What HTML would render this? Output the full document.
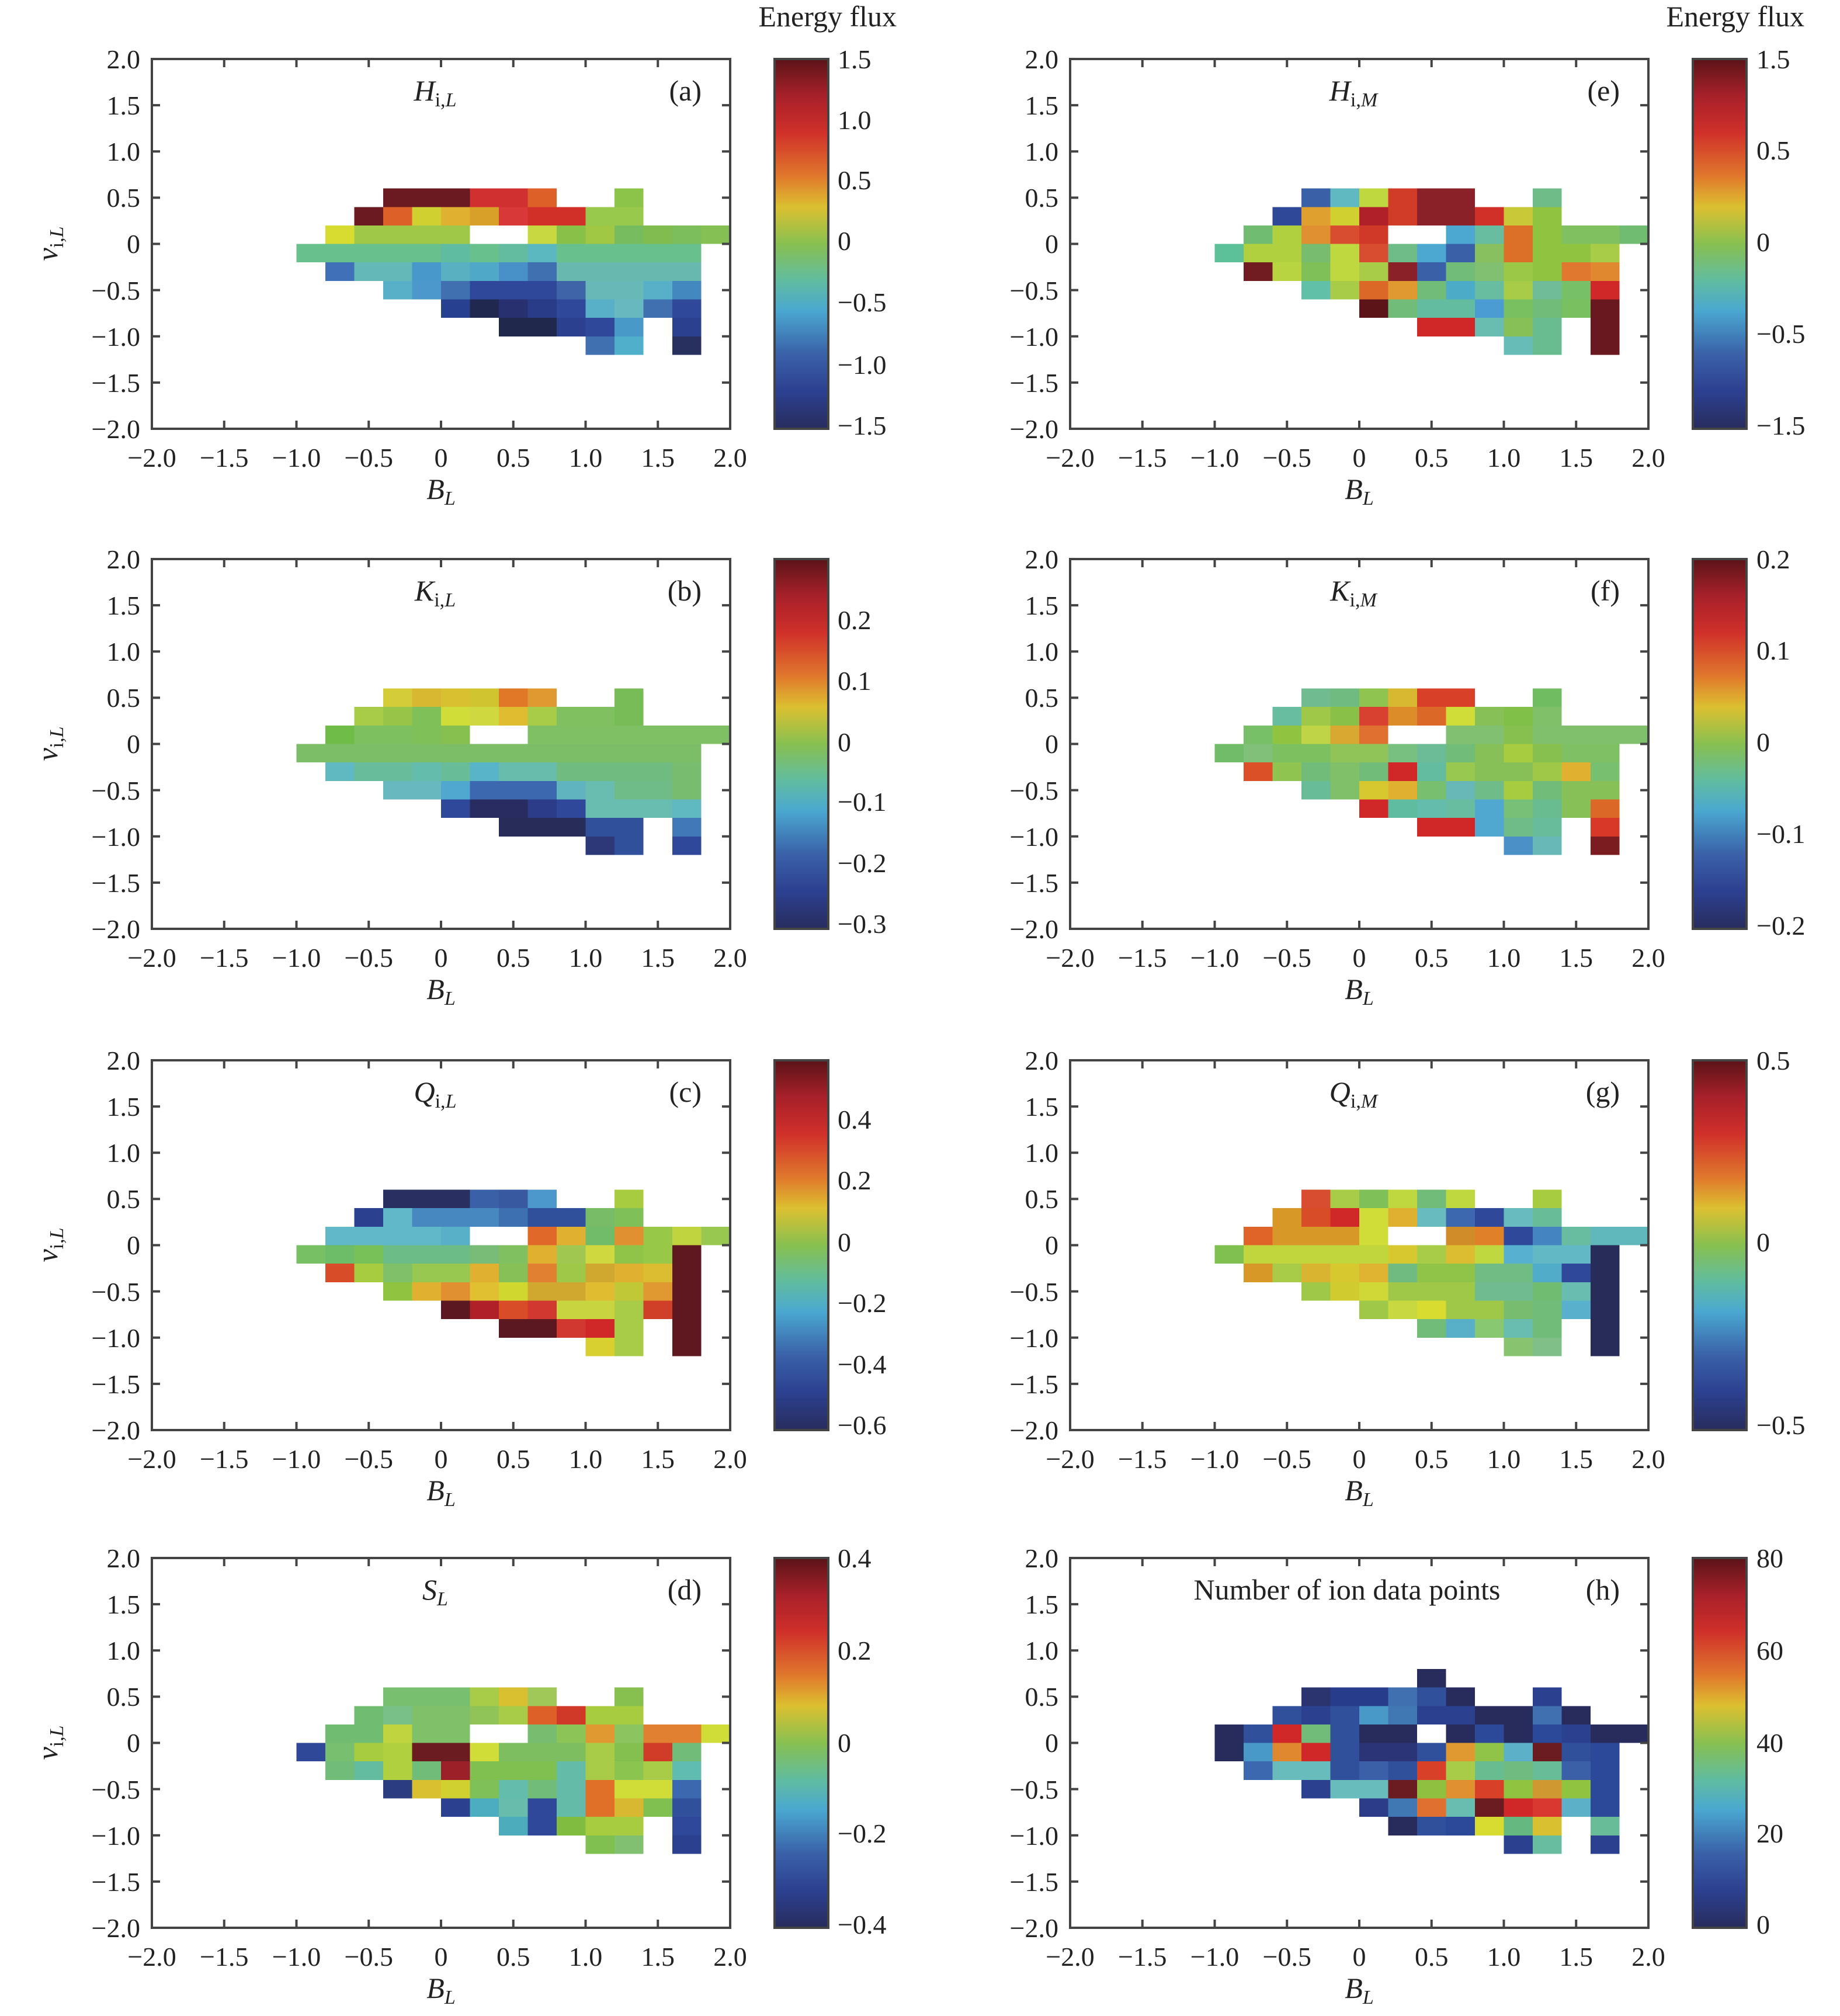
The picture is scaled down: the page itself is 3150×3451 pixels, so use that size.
<!DOCTYPE html>
<html><head><meta charset="utf-8"><style>
html,body{margin:0;padding:0;background:#fff}
svg{display:block}
text{font-family:"Liberation Serif",serif;fill:#222}
.t{font-size:46px}
.it{font-style:italic}
</style></head><body>
<svg width="3150" height="3451" viewBox="0 0 3150 3451" xmlns="http://www.w3.org/2000/svg">
<defs>
<linearGradient id="cm" x1="0" y1="0" x2="0" y2="1">
<stop offset="0" stop-color="#5a1418"/><stop offset="0.1" stop-color="#a8202a"/><stop offset="0.2" stop-color="#d0302a"/><stop offset="0.32" stop-color="#e07a2c"/><stop offset="0.4" stop-color="#dcc030"/><stop offset="0.5" stop-color="#88c050"/><stop offset="0.6" stop-color="#60bca0"/><stop offset="0.68" stop-color="#4aa8d0"/><stop offset="0.8" stop-color="#3a60a8"/><stop offset="0.9" stop-color="#2c4090"/><stop offset="1" stop-color="#282c5c"/>
</linearGradient>
<g id="ax">
<rect x="0" y="0" width="990" height="633" fill="none" stroke="#444" stroke-width="4"/>
<path d="M123.75,0v14M247.5,0v14M371.25,0v14M495,0v14M618.75,0v14M742.5,0v14M866.25,0v14M123.75,633v-14M247.5,633v-14M371.25,633v-14M495,633v-14M618.75,633v-14M742.5,633v-14M866.25,633v-14M0,79.1h14M0,158.25h14M0,237.4h14M0,316.5h14M0,395.6h14M0,474.75h14M0,553.9h14M990,79.1h-14M990,158.25h-14M990,237.4h-14M990,316.5h-14M990,395.6h-14M990,474.75h-14M990,553.9h-14" stroke="#444" stroke-width="4"/>
<g class="t" text-anchor="end">
<text x="-20" y="16">2.0</text><text x="-20" y="95">1.5</text><text x="-20" y="174">1.0</text><text x="-20" y="253">0.5</text><text x="-20" y="332">0</text><text x="-20" y="412">−0.5</text><text x="-20" y="491">−1.0</text><text x="-20" y="570">−1.5</text><text x="-20" y="649">−2.0</text>
</g>
<g class="t" text-anchor="middle">
<text x="0" y="698">−2.0</text><text x="123.75" y="698">−1.5</text><text x="247.5" y="698">−1.0</text><text x="371.25" y="698">−0.5</text><text x="495" y="698">0</text><text x="618.75" y="698">0.5</text><text x="742.5" y="698">1.0</text><text x="866.25" y="698">1.5</text><text x="990" y="698">2.0</text>
</g>
<text x="495" y="753" text-anchor="middle" style="font-size:50px" class="it">B<tspan dy="10" style="font-size:34px">L</tspan></text>
</g>
<g id="cb">
<rect x="0" y="0" width="92" height="633" fill="url(#cm)" stroke="#444" stroke-width="4"/>
</g>
</defs>
<g shape-rendering="crispEdges">
<!-- a -->
<g transform="translate(507.5,322.6) scale(49.5,31.65)">
<rect x="3" y="0" width="3" height="1" fill="#6a1a20"/><rect x="6" y="0" width="2" height="1" fill="#d03030"/><rect x="8" y="0" width="1" height="1" fill="#dc6028"/><rect x="11" y="0" width="1" height="1" fill="#8cc44a"/>
<rect x="2" y="1" width="1" height="1" fill="#6a1a20"/><rect x="3" y="1" width="1" height="1" fill="#dc6028"/><rect x="4" y="1" width="1" height="1" fill="#d0d030"/><rect x="5" y="1" width="1" height="1" fill="#e0b030"/><rect x="6" y="1" width="1" height="1" fill="#d8a028"/><rect x="7" y="1" width="1" height="1" fill="#d83838"/><rect x="8" y="1" width="2" height="1" fill="#d03028"/><rect x="10" y="1" width="2" height="1" fill="#98c84c"/>
<rect x="1" y="2" width="1" height="1" fill="#d8dc30"/><rect x="2" y="2" width="4" height="1" fill="#a0c848"/><rect x="8" y="2" width="1" height="1" fill="#c8d840"/><rect x="9" y="2" width="1" height="1" fill="#88c048"/><rect x="10" y="2" width="1" height="1" fill="#a0c844"/><rect x="11" y="2" width="1" height="1" fill="#78bc60"/><rect x="12" y="2" width="1" height="1" fill="#80bc50"/><rect x="13" y="2" width="1" height="1" fill="#7cbe5c"/><rect x="14" y="2" width="1" height="1" fill="#84c054"/>
<rect x="0" y="3" width="14" height="1" fill="#68c08c"/><rect x="5" y="3" width="1" height="1" fill="#60bca0"/><rect x="7" y="3" width="1" height="1" fill="#64bca0"/><rect x="8" y="3" width="1" height="1" fill="#5cb8c0"/>
<rect x="1" y="4" width="1" height="1" fill="#4070b8"/><rect x="2" y="4" width="2" height="1" fill="#64b8b8"/><rect x="4" y="4" width="1" height="1" fill="#4898cc"/><rect x="5" y="4" width="1" height="1" fill="#58b0c0"/><rect x="6" y="4" width="1" height="1" fill="#50a8c8"/><rect x="7" y="4" width="1" height="1" fill="#4890c8"/><rect x="8" y="4" width="1" height="1" fill="#4070b0"/><rect x="9" y="4" width="5" height="1" fill="#68b8b0"/>
<rect x="3" y="5" width="1" height="1" fill="#58b0c8"/><rect x="4" y="5" width="1" height="1" fill="#4c98cc"/><rect x="5" y="5" width="1" height="1" fill="#4070b0"/><rect x="6" y="5" width="3" height="1" fill="#30489a"/><rect x="9" y="5" width="1" height="1" fill="#4064a8"/><rect x="10" y="5" width="2" height="1" fill="#68b8b8"/><rect x="12" y="5" width="1" height="1" fill="#58b0c8"/><rect x="13" y="5" width="1" height="1" fill="#4488c0"/>
<rect x="5" y="6" width="1" height="1" fill="#284090"/><rect x="6" y="6" width="1" height="1" fill="#202850"/><rect x="7" y="6" width="1" height="1" fill="#283070"/><rect x="8" y="6" width="1" height="1" fill="#283c88"/><rect x="9" y="6" width="1" height="1" fill="#30489a"/><rect x="10" y="6" width="1" height="1" fill="#58b0c8"/><rect x="11" y="6" width="1" height="1" fill="#68b8c0"/><rect x="12" y="6" width="1" height="1" fill="#4070b0"/><rect x="13" y="6" width="1" height="1" fill="#30489a"/>
<rect x="7" y="7" width="2" height="1" fill="#20284c"/><rect x="9" y="7" width="1" height="1" fill="#2c4090"/><rect x="10" y="7" width="1" height="1" fill="#30489a"/><rect x="11" y="7" width="1" height="1" fill="#4898c8"/><rect x="13" y="7" width="1" height="1" fill="#2c4090"/>
<rect x="10" y="8" width="1" height="1" fill="#4070b0"/><rect x="11" y="8" width="1" height="1" fill="#50b0cc"/><rect x="13" y="8" width="1" height="1" fill="#283060"/>
</g>
<!-- b -->
<g transform="translate(507.5,1178.6) scale(49.5,31.65)">
<rect x="3" y="0" width="1" height="1" fill="#d4cc38"/><rect x="4" y="0" width="1" height="1" fill="#d8b830"/><rect x="5" y="0" width="1" height="1" fill="#d8c030"/><rect x="6" y="0" width="1" height="1" fill="#d0c430"/><rect x="7" y="0" width="1" height="1" fill="#e07828"/><rect x="8" y="0" width="1" height="1" fill="#e09830"/><rect x="11" y="0" width="1" height="1" fill="#78bc58"/>
<rect x="2" y="1" width="1" height="1" fill="#a8cc48"/><rect x="3" y="1" width="1" height="1" fill="#98c448"/><rect x="4" y="1" width="1" height="1" fill="#80c058"/><rect x="5" y="1" width="1" height="1" fill="#d0dc38"/><rect x="6" y="1" width="1" height="1" fill="#d0d840"/><rect x="7" y="1" width="1" height="1" fill="#e0bc30"/><rect x="8" y="1" width="1" height="1" fill="#a8cc48"/><rect x="9" y="1" width="2" height="1" fill="#80c060"/><rect x="11" y="1" width="1" height="1" fill="#78bc58"/>
<rect x="1" y="2" width="1" height="1" fill="#70bc48"/><rect x="2" y="2" width="2" height="1" fill="#7cc060"/><rect x="4" y="2" width="1" height="1" fill="#80c058"/><rect x="5" y="2" width="1" height="1" fill="#88c050"/><rect x="8" y="2" width="7" height="1" fill="#80c064"/>
<rect x="0" y="3" width="14" height="1" fill="#7cbe68"/>
<rect x="1" y="4" width="1" height="1" fill="#60b8c0"/><rect x="2" y="4" width="2" height="1" fill="#68bc9c"/><rect x="4" y="4" width="1" height="1" fill="#64bcac"/><rect x="5" y="4" width="1" height="1" fill="#68bc98"/><rect x="6" y="4" width="1" height="1" fill="#58b4c8"/><rect x="7" y="4" width="2" height="1" fill="#68bcac"/><rect x="9" y="4" width="4" height="1" fill="#70bc80"/><rect x="13" y="4" width="1" height="1" fill="#78bc70"/>
<rect x="3" y="5" width="2" height="1" fill="#68b8c0"/><rect x="5" y="5" width="1" height="1" fill="#50a8d0"/><rect x="6" y="5" width="3" height="1" fill="#3c68b0"/><rect x="9" y="5" width="1" height="1" fill="#60b4c0"/><rect x="10" y="5" width="1" height="1" fill="#68bcb0"/><rect x="11" y="5" width="2" height="1" fill="#70bc88"/><rect x="13" y="5" width="1" height="1" fill="#78bc70"/>
<rect x="5" y="6" width="1" height="1" fill="#30489a"/><rect x="6" y="6" width="2" height="1" fill="#282c60"/><rect x="8" y="6" width="1" height="1" fill="#2c3c88"/><rect x="9" y="6" width="1" height="1" fill="#30489a"/><rect x="10" y="6" width="3" height="1" fill="#68bcb0"/><rect x="13" y="6" width="1" height="1" fill="#60b8c0"/>
<rect x="7" y="7" width="3" height="1" fill="#282c58"/><rect x="10" y="7" width="2" height="1" fill="#30509c"/><rect x="13" y="7" width="1" height="1" fill="#4078b8"/>
<rect x="10" y="8" width="1" height="1" fill="#2c3878"/><rect x="11" y="8" width="1" height="1" fill="#30509c"/><rect x="13" y="8" width="1" height="1" fill="#30489a"/>
</g>
<!-- c -->
<g transform="translate(507.5,2036.6) scale(49.5,31.65)">
<rect x="3" y="0" width="3" height="1" fill="#2a2f62"/><rect x="6" y="0" width="1" height="1" fill="#3a60a8"/><rect x="7" y="0" width="1" height="1" fill="#3858a0"/><rect x="8" y="0" width="1" height="1" fill="#4c98cc"/><rect x="11" y="0" width="1" height="1" fill="#a8cc40"/>
<rect x="2" y="1" width="1" height="1" fill="#2c4090"/><rect x="3" y="1" width="1" height="1" fill="#60b8c8"/><rect x="4" y="1" width="3" height="1" fill="#4888c0"/><rect x="7" y="1" width="1" height="1" fill="#3c70b0"/><rect x="8" y="1" width="2" height="1" fill="#30509c"/><rect x="10" y="1" width="1" height="1" fill="#78bc68"/><rect x="11" y="1" width="1" height="1" fill="#80c058"/>
<rect x="1" y="2" width="4" height="1" fill="#60b8c8"/><rect x="5" y="2" width="1" height="1" fill="#58b0c8"/><rect x="8" y="2" width="1" height="1" fill="#e06828"/><rect x="9" y="2" width="1" height="1" fill="#e0b030"/><rect x="10" y="2" width="1" height="1" fill="#70bc68"/><rect x="11" y="2" width="1" height="1" fill="#e09030"/><rect x="12" y="2" width="1" height="1" fill="#98c848"/><rect x="13" y="2" width="1" height="1" fill="#c0d440"/><rect x="14" y="2" width="1" height="1" fill="#98c850"/>
<rect x="0" y="3" width="1" height="1" fill="#78c064"/><rect x="1" y="3" width="1" height="1" fill="#6cbc68"/><rect x="2" y="3" width="1" height="1" fill="#78c058"/><rect x="3" y="3" width="3" height="1" fill="#6cbc88"/><rect x="6" y="3" width="1" height="1" fill="#78bc78"/><rect x="7" y="3" width="1" height="1" fill="#80c060"/><rect x="8" y="3" width="1" height="1" fill="#e0b030"/><rect x="9" y="3" width="1" height="1" fill="#a0c850"/><rect x="10" y="3" width="1" height="1" fill="#d0d840"/><rect x="11" y="3" width="1" height="1" fill="#90c448"/><rect x="12" y="3" width="1" height="1" fill="#98c848"/><rect x="13" y="3" width="1" height="6" fill="#601820"/>
<rect x="1" y="4" width="1" height="1" fill="#d84c28"/><rect x="2" y="4" width="1" height="1" fill="#a8cc40"/><rect x="3" y="4" width="1" height="1" fill="#80c068"/><rect x="4" y="4" width="2" height="1" fill="#98c850"/><rect x="6" y="4" width="1" height="1" fill="#e0b030"/><rect x="7" y="4" width="1" height="1" fill="#88c058"/><rect x="8" y="4" width="1" height="1" fill="#e08030"/><rect x="9" y="4" width="1" height="1" fill="#a0c848"/><rect x="10" y="4" width="1" height="1" fill="#d0a830"/><rect x="11" y="4" width="1" height="1" fill="#e0b030"/><rect x="12" y="4" width="1" height="1" fill="#dcbc30"/>
<rect x="3" y="5" width="1" height="1" fill="#90c440"/><rect x="4" y="5" width="1" height="1" fill="#e0b030"/><rect x="5" y="5" width="1" height="1" fill="#e09030"/><rect x="6" y="5" width="1" height="1" fill="#e0c030"/><rect x="7" y="5" width="1" height="1" fill="#d0d830"/><rect x="8" y="5" width="2" height="1" fill="#d0a830"/><rect x="10" y="5" width="1" height="1" fill="#e0bc30"/><rect x="11" y="5" width="1" height="1" fill="#c0c838"/><rect x="12" y="5" width="1" height="1" fill="#e09830"/>
<rect x="5" y="6" width="1" height="1" fill="#5c1820"/><rect x="6" y="6" width="1" height="1" fill="#b02028"/><rect x="7" y="6" width="1" height="1" fill="#d84c28"/><rect x="8" y="6" width="1" height="1" fill="#d03830"/><rect x="9" y="6" width="2" height="1" fill="#c8d440"/><rect x="11" y="6" width="1" height="1" fill="#a8cc48"/><rect x="12" y="6" width="1" height="1" fill="#d04028"/>
<rect x="7" y="7" width="2" height="1" fill="#5c1820"/><rect x="9" y="7" width="1" height="1" fill="#d03830"/><rect x="10" y="7" width="1" height="1" fill="#d02828"/><rect x="11" y="7" width="1" height="1" fill="#a8cc48"/>
<rect x="10" y="8" width="1" height="1" fill="#d8d030"/><rect x="11" y="8" width="1" height="1" fill="#a8cc48"/>
</g>
<!-- d -->
<g transform="translate(507.5,2888.6) scale(49.5,31.65)">
<rect x="3" y="0" width="3" height="1" fill="#78c070"/><rect x="6" y="0" width="1" height="1" fill="#a8cc48"/><rect x="7" y="0" width="1" height="1" fill="#d8c030"/><rect x="8" y="0" width="1" height="1" fill="#a0c858"/><rect x="11" y="0" width="1" height="1" fill="#88c050"/>
<rect x="2" y="1" width="1" height="1" fill="#70bc70"/><rect x="3" y="1" width="1" height="1" fill="#78c088"/><rect x="4" y="1" width="2" height="1" fill="#80c068"/><rect x="6" y="1" width="1" height="1" fill="#90c458"/><rect x="7" y="1" width="1" height="1" fill="#a8cc48"/><rect x="8" y="1" width="1" height="1" fill="#dc6028"/><rect x="9" y="1" width="1" height="1" fill="#d03828"/><rect x="10" y="1" width="2" height="1" fill="#a8cc40"/>
<rect x="1" y="2" width="2" height="1" fill="#70bc70"/><rect x="3" y="2" width="1" height="1" fill="#c0d440"/><rect x="4" y="2" width="2" height="1" fill="#80c068"/><rect x="8" y="2" width="1" height="1" fill="#78bc70"/><rect x="9" y="2" width="1" height="1" fill="#8cc458"/><rect x="10" y="2" width="1" height="1" fill="#e09830"/><rect x="11" y="2" width="1" height="1" fill="#8cc460"/><rect x="12" y="2" width="2" height="1" fill="#e08030"/><rect x="14" y="2" width="1" height="1" fill="#d0dc38"/>
<rect x="0" y="3" width="1" height="1" fill="#304898"/><rect x="1" y="3" width="1" height="1" fill="#78c070"/><rect x="2" y="3" width="1" height="1" fill="#a8cc40"/><rect x="3" y="3" width="1" height="1" fill="#b0d040"/><rect x="4" y="3" width="2" height="1" fill="#6a1c20"/><rect x="6" y="3" width="1" height="1" fill="#d0dc38"/><rect x="7" y="3" width="3" height="1" fill="#7cbe60"/><rect x="10" y="3" width="1" height="1" fill="#a8cc48"/><rect x="11" y="3" width="1" height="1" fill="#84c050"/><rect x="12" y="3" width="1" height="1" fill="#d03c28"/><rect x="13" y="3" width="1" height="1" fill="#70bc78"/>
<rect x="1" y="4" width="1" height="1" fill="#70bc78"/><rect x="2" y="4" width="1" height="1" fill="#64bca0"/><rect x="3" y="4" width="1" height="1" fill="#b0d040"/><rect x="4" y="4" width="1" height="1" fill="#70bc78"/><rect x="5" y="4" width="1" height="1" fill="#9c2028"/><rect x="6" y="4" width="3" height="1" fill="#80c050"/><rect x="9" y="4" width="1" height="1" fill="#64bca8"/><rect x="10" y="4" width="1" height="1" fill="#a8cc48"/><rect x="11" y="4" width="1" height="1" fill="#8cc450"/><rect x="12" y="4" width="1" height="1" fill="#a8cc48"/><rect x="13" y="4" width="1" height="1" fill="#60bcb0"/>
<rect x="3" y="5" width="1" height="1" fill="#2c3c80"/><rect x="4" y="5" width="1" height="1" fill="#d8c030"/><rect x="5" y="5" width="1" height="1" fill="#d0d030"/><rect x="6" y="5" width="1" height="1" fill="#80c058"/><rect x="7" y="5" width="1" height="1" fill="#64bcac"/><rect x="8" y="5" width="1" height="1" fill="#70bc78"/><rect x="9" y="5" width="1" height="1" fill="#64bca8"/><rect x="10" y="5" width="1" height="1" fill="#e07028"/><rect x="11" y="5" width="2" height="1" fill="#d0dc38"/><rect x="13" y="5" width="1" height="1" fill="#3c68b0"/>
<rect x="5" y="6" width="1" height="1" fill="#2c4090"/><rect x="6" y="6" width="1" height="1" fill="#4cacc0"/><rect x="7" y="6" width="1" height="1" fill="#68bcac"/><rect x="8" y="6" width="1" height="1" fill="#30489a"/><rect x="9" y="6" width="1" height="1" fill="#64bca8"/><rect x="10" y="6" width="1" height="1" fill="#e07028"/><rect x="11" y="6" width="1" height="1" fill="#d8b830"/><rect x="12" y="6" width="1" height="1" fill="#80c050"/><rect x="13" y="6" width="1" height="1" fill="#30509c"/>
<rect x="7" y="7" width="1" height="1" fill="#4cacbc"/><rect x="8" y="7" width="1" height="1" fill="#30489a"/><rect x="9" y="7" width="1" height="1" fill="#80bc40"/><rect x="10" y="7" width="2" height="1" fill="#a8cc40"/><rect x="13" y="7" width="1" height="1" fill="#30489a"/>
<rect x="10" y="8" width="1" height="1" fill="#80c050"/><rect x="11" y="8" width="1" height="1" fill="#80c070"/><rect x="13" y="8" width="1" height="1" fill="#2c4090"/>
</g>
<!-- e -->
<g transform="translate(2079.5,322.6) scale(49.5,31.65)">
<rect x="3" y="0" width="1" height="1" fill="#3a60a8"/><rect x="4" y="0" width="1" height="1" fill="#60b8c0"/><rect x="5" y="0" width="1" height="1" fill="#c0d840"/><rect x="6" y="0" width="1" height="1" fill="#d03c28"/><rect x="7" y="0" width="2" height="1" fill="#8a2028"/><rect x="11" y="0" width="1" height="1" fill="#70bc88"/>
<rect x="2" y="1" width="1" height="1" fill="#304898"/><rect x="3" y="1" width="1" height="1" fill="#e0a030"/><rect x="4" y="1" width="1" height="1" fill="#d0d030"/><rect x="5" y="1" width="1" height="1" fill="#b02028"/><rect x="6" y="1" width="1" height="1" fill="#d03c28"/><rect x="7" y="1" width="2" height="1" fill="#8a2028"/><rect x="9" y="1" width="1" height="1" fill="#d03028"/><rect x="10" y="1" width="1" height="1" fill="#c8c838"/><rect x="11" y="1" width="1" height="1" fill="#90c440"/>
<rect x="1" y="2" width="1" height="1" fill="#70bc70"/><rect x="2" y="2" width="1" height="1" fill="#b0d040"/><rect x="3" y="2" width="1" height="1" fill="#e09030"/><rect x="4" y="2" width="1" height="1" fill="#d84c30"/><rect x="5" y="2" width="1" height="1" fill="#d03828"/><rect x="8" y="2" width="1" height="1" fill="#4ca8d0"/><rect x="9" y="2" width="1" height="1" fill="#68bca0"/><rect x="10" y="2" width="1" height="1" fill="#dc7028"/><rect x="11" y="2" width="1" height="1" fill="#90c440"/><rect x="12" y="2" width="2" height="1" fill="#80c060"/><rect x="14" y="2" width="1" height="1" fill="#70bc70"/>
<rect x="0" y="3" width="1" height="1" fill="#5cc098"/><rect x="1" y="3" width="2" height="1" fill="#b0d040"/><rect x="3" y="3" width="1" height="1" fill="#78bc70"/><rect x="4" y="3" width="1" height="1" fill="#c0d840"/><rect x="5" y="3" width="1" height="1" fill="#d84c30"/><rect x="6" y="3" width="1" height="1" fill="#70bc88"/><rect x="7" y="3" width="1" height="1" fill="#4ca8d0"/><rect x="8" y="3" width="1" height="1" fill="#3a60a8"/><rect x="9" y="3" width="1" height="1" fill="#88c060"/><rect x="10" y="3" width="1" height="1" fill="#dc7028"/><rect x="11" y="3" width="2" height="1" fill="#90c440"/><rect x="13" y="3" width="1" height="1" fill="#a8cc48"/>
<rect x="1" y="4" width="1" height="1" fill="#701c20"/><rect x="2" y="4" width="1" height="1" fill="#b8d440"/><rect x="3" y="4" width="1" height="1" fill="#80c058"/><rect x="4" y="4" width="1" height="1" fill="#c0d840"/><rect x="5" y="4" width="1" height="1" fill="#a8cc48"/><rect x="6" y="4" width="1" height="1" fill="#8a2028"/><rect x="7" y="4" width="1" height="1" fill="#3a60a8"/><rect x="8" y="4" width="1" height="1" fill="#70bc78"/><rect x="9" y="4" width="1" height="1" fill="#80c070"/><rect x="10" y="4" width="1" height="1" fill="#9cc848"/><rect x="11" y="4" width="1" height="1" fill="#90c440"/><rect x="12" y="4" width="1" height="1" fill="#e07830"/><rect x="13" y="4" width="1" height="1" fill="#e08830"/>
<rect x="3" y="5" width="1" height="1" fill="#60c0a8"/><rect x="4" y="5" width="1" height="1" fill="#a8cc48"/><rect x="5" y="5" width="1" height="1" fill="#dc6828"/><rect x="6" y="5" width="1" height="1" fill="#e09830"/><rect x="7" y="5" width="1" height="1" fill="#70bc78"/><rect x="8" y="5" width="1" height="1" fill="#4cacc8"/><rect x="9" y="5" width="1" height="1" fill="#68bca0"/><rect x="10" y="5" width="1" height="1" fill="#a8cc48"/><rect x="11" y="5" width="1" height="1" fill="#70bc98"/><rect x="12" y="5" width="1" height="1" fill="#78c068"/><rect x="13" y="5" width="1" height="1" fill="#d02828"/>
<rect x="5" y="6" width="1" height="1" fill="#5c1418"/><rect x="6" y="6" width="1" height="1" fill="#70bc78"/><rect x="7" y="6" width="2" height="1" fill="#64bca0"/><rect x="9" y="6" width="1" height="1" fill="#4c9cd4"/><rect x="10" y="6" width="1" height="1" fill="#78c060"/><rect x="11" y="6" width="1" height="1" fill="#70bc78"/><rect x="12" y="6" width="1" height="1" fill="#78c060"/><rect x="13" y="6" width="1" height="3" fill="#6a1820"/>
<rect x="7" y="7" width="2" height="1" fill="#d02828"/><rect x="9" y="7" width="1" height="1" fill="#68bcb0"/><rect x="10" y="7" width="1" height="1" fill="#88c058"/><rect x="11" y="7" width="1" height="1" fill="#68bc90"/>
<rect x="10" y="8" width="1" height="1" fill="#68bcb8"/><rect x="11" y="8" width="1" height="1" fill="#68bc90"/>
</g>
<!-- f -->
<g transform="translate(2079.5,1178.6) scale(49.5,31.65)">
<rect x="3" y="0" width="1" height="1" fill="#70bc90"/><rect x="4" y="0" width="1" height="1" fill="#70bc80"/><rect x="5" y="0" width="1" height="1" fill="#90c450"/><rect x="6" y="0" width="1" height="1" fill="#d8b830"/><rect x="7" y="0" width="2" height="1" fill="#d84028"/><rect x="11" y="0" width="1" height="1" fill="#70bc60"/>
<rect x="2" y="1" width="1" height="1" fill="#68bca0"/><rect x="3" y="1" width="1" height="1" fill="#a0c848"/><rect x="4" y="1" width="1" height="1" fill="#88c048"/><rect x="5" y="1" width="1" height="1" fill="#d84030"/><rect x="6" y="1" width="1" height="1" fill="#dc8c28"/><rect x="7" y="1" width="1" height="1" fill="#dc6828"/><rect x="8" y="1" width="1" height="1" fill="#d0dc38"/><rect x="9" y="1" width="1" height="1" fill="#88c058"/><rect x="10" y="1" width="1" height="1" fill="#80c048"/><rect x="11" y="1" width="1" height="1" fill="#80c068"/>
<rect x="1" y="2" width="1" height="1" fill="#78c068"/><rect x="2" y="2" width="1" height="1" fill="#90c440"/><rect x="3" y="2" width="1" height="1" fill="#c0d448"/><rect x="4" y="2" width="1" height="1" fill="#d8a830"/><rect x="5" y="2" width="1" height="1" fill="#e07030"/><rect x="8" y="2" width="2" height="1" fill="#80c070"/><rect x="10" y="2" width="1" height="1" fill="#88c050"/><rect x="11" y="2" width="4" height="1" fill="#80c06c"/>
<rect x="0" y="3" width="1" height="1" fill="#70bc68"/><rect x="1" y="3" width="1" height="1" fill="#80c078"/><rect x="2" y="3" width="2" height="1" fill="#7cc060"/><rect x="4" y="3" width="2" height="1" fill="#90c458"/><rect x="6" y="3" width="1" height="1" fill="#78c080"/><rect x="7" y="3" width="1" height="1" fill="#6cbc98"/><rect x="8" y="3" width="1" height="1" fill="#70bc78"/><rect x="9" y="3" width="1" height="1" fill="#88c058"/><rect x="10" y="3" width="1" height="1" fill="#a8cc40"/><rect x="11" y="3" width="1" height="1" fill="#88c050"/><rect x="12" y="3" width="2" height="1" fill="#80c064"/>
<rect x="1" y="4" width="1" height="1" fill="#dc5028"/><rect x="2" y="4" width="1" height="1" fill="#90c450"/><rect x="3" y="4" width="1" height="1" fill="#70bc78"/><rect x="4" y="4" width="1" height="1" fill="#80c068"/><rect x="5" y="4" width="1" height="1" fill="#70bc78"/><rect x="6" y="4" width="1" height="1" fill="#d02828"/><rect x="7" y="4" width="1" height="1" fill="#64bca0"/><rect x="8" y="4" width="1" height="1" fill="#98c850"/><rect x="9" y="4" width="2" height="1" fill="#88c058"/><rect x="11" y="4" width="1" height="1" fill="#a0c848"/><rect x="12" y="4" width="1" height="1" fill="#e0b030"/><rect x="13" y="4" width="1" height="1" fill="#78c070"/>
<rect x="3" y="5" width="1" height="1" fill="#68bc98"/><rect x="4" y="5" width="1" height="1" fill="#80c068"/><rect x="5" y="5" width="1" height="1" fill="#d8c830"/><rect x="6" y="5" width="1" height="1" fill="#e0b030"/><rect x="7" y="5" width="1" height="1" fill="#78c070"/><rect x="8" y="5" width="1" height="1" fill="#68b8b8"/><rect x="9" y="5" width="1" height="1" fill="#70bc88"/><rect x="10" y="5" width="1" height="1" fill="#a8cc40"/><rect x="11" y="5" width="1" height="1" fill="#70bc78"/><rect x="12" y="5" width="2" height="1" fill="#88c058"/>
<rect x="5" y="6" width="1" height="1" fill="#d02828"/><rect x="6" y="6" width="1" height="1" fill="#60bca0"/><rect x="7" y="6" width="1" height="1" fill="#64bcac"/><rect x="8" y="6" width="1" height="1" fill="#68bca0"/><rect x="9" y="6" width="1" height="1" fill="#50a8d0"/><rect x="10" y="6" width="1" height="1" fill="#78c078"/><rect x="11" y="6" width="1" height="1" fill="#68bc90"/><rect x="12" y="6" width="1" height="1" fill="#88c058"/><rect x="13" y="6" width="1" height="1" fill="#dc6828"/>
<rect x="7" y="7" width="2" height="1" fill="#d02828"/><rect x="9" y="7" width="1" height="1" fill="#50a8d0"/><rect x="10" y="7" width="1" height="1" fill="#70bc88"/><rect x="11" y="7" width="1" height="1" fill="#68bc9c"/><rect x="13" y="7" width="1" height="1" fill="#d83828"/>
<rect x="10" y="8" width="1" height="1" fill="#4c90c8"/><rect x="11" y="8" width="1" height="1" fill="#68b8b8"/><rect x="13" y="8" width="1" height="1" fill="#7a1c20"/>
</g>
<!-- g -->
<g transform="translate(2079.5,2036.6) scale(49.5,31.65)">
<rect x="3" y="0" width="1" height="1" fill="#d84c30"/><rect x="4" y="0" width="1" height="1" fill="#a8cc48"/><rect x="5" y="0" width="1" height="1" fill="#80c058"/><rect x="6" y="0" width="1" height="1" fill="#c0d840"/><rect x="7" y="0" width="1" height="1" fill="#70bc78"/><rect x="8" y="0" width="1" height="1" fill="#c0d840"/><rect x="11" y="0" width="1" height="1" fill="#a8cc40"/>
<rect x="2" y="1" width="1" height="1" fill="#d89828"/><rect x="3" y="1" width="1" height="1" fill="#d84c28"/><rect x="4" y="1" width="1" height="1" fill="#d02828"/><rect x="5" y="1" width="1" height="1" fill="#d0dc38"/><rect x="6" y="1" width="1" height="1" fill="#e0b030"/><rect x="7" y="1" width="1" height="1" fill="#68bcc0"/><rect x="8" y="1" width="1" height="1" fill="#3c68b0"/><rect x="9" y="1" width="1" height="1" fill="#30489a"/><rect x="10" y="1" width="1" height="1" fill="#68bcc0"/><rect x="11" y="1" width="1" height="1" fill="#68bc98"/>
<rect x="1" y="2" width="1" height="1" fill="#e06428"/><rect x="2" y="2" width="3" height="1" fill="#d89828"/><rect x="5" y="2" width="1" height="1" fill="#d0dc38"/><rect x="8" y="2" width="1" height="1" fill="#d08c28"/><rect x="9" y="2" width="1" height="1" fill="#e08028"/><rect x="10" y="2" width="1" height="1" fill="#30489a"/><rect x="11" y="2" width="1" height="1" fill="#4484c0"/><rect x="12" y="2" width="1" height="1" fill="#68bca0"/><rect x="13" y="2" width="2" height="1" fill="#60b8bc"/>
<rect x="0" y="3" width="1" height="1" fill="#80c050"/><rect x="1" y="3" width="5" height="1" fill="#c0d63c"/><rect x="6" y="3" width="1" height="1" fill="#d8c830"/><rect x="7" y="3" width="1" height="1" fill="#a8cc48"/><rect x="8" y="3" width="1" height="1" fill="#dcbc30"/><rect x="9" y="3" width="1" height="1" fill="#c0d840"/><rect x="10" y="3" width="1" height="1" fill="#58b0d0"/><rect x="11" y="3" width="2" height="1" fill="#62b8c4"/><rect x="13" y="3" width="1" height="6" fill="#282c58"/>
<rect x="1" y="4" width="1" height="1" fill="#d89828"/><rect x="2" y="4" width="1" height="1" fill="#a8cc48"/><rect x="3" y="4" width="1" height="1" fill="#d8b430"/><rect x="4" y="4" width="1" height="1" fill="#d8c830"/><rect x="5" y="4" width="1" height="1" fill="#e0b430"/><rect x="6" y="4" width="1" height="1" fill="#70bc80"/><rect x="7" y="4" width="2" height="1" fill="#90c448"/><rect x="9" y="4" width="2" height="1" fill="#70bc84"/><rect x="11" y="4" width="1" height="1" fill="#50acc8"/><rect x="12" y="4" width="1" height="1" fill="#30489a"/>
<rect x="3" y="5" width="1" height="1" fill="#a0c848"/><rect x="4" y="5" width="1" height="1" fill="#d0cc30"/><rect x="5" y="5" width="1" height="1" fill="#d0d838"/><rect x="6" y="5" width="3" height="1" fill="#a0c848"/><rect x="9" y="5" width="2" height="1" fill="#70bc90"/><rect x="11" y="5" width="1" height="1" fill="#70bc70"/><rect x="12" y="5" width="1" height="1" fill="#68bcb0"/>
<rect x="5" y="6" width="1" height="1" fill="#a0c848"/><rect x="6" y="6" width="1" height="1" fill="#c8d840"/><rect x="7" y="6" width="1" height="1" fill="#d8dc30"/><rect x="8" y="6" width="2" height="1" fill="#a0c848"/><rect x="10" y="6" width="1" height="1" fill="#78bc70"/><rect x="11" y="6" width="1" height="1" fill="#70bc78"/><rect x="12" y="6" width="1" height="1" fill="#58b0cc"/>
<rect x="7" y="7" width="1" height="1" fill="#70bc78"/><rect x="8" y="7" width="1" height="1" fill="#58b0c8"/><rect x="9" y="7" width="1" height="1" fill="#88c870"/><rect x="10" y="7" width="1" height="1" fill="#68bcb0"/><rect x="11" y="7" width="1" height="1" fill="#70bc78"/>
<rect x="10" y="8" width="1" height="1" fill="#88c470"/><rect x="11" y="8" width="1" height="1" fill="#80c088"/>
</g>
<!-- h -->
<g transform="translate(2079.5,2888.6) scale(49.5,31.65)">
<rect x="7" y="-1" width="1" height="1" fill="#282c5c"/>
<rect x="3" y="0" width="1" height="1" fill="#2c3470"/><rect x="4" y="0" width="2" height="1" fill="#283c8c"/><rect x="6" y="0" width="1" height="1" fill="#4070b0"/><rect x="7" y="0" width="1" height="1" fill="#30509c"/><rect x="8" y="0" width="1" height="1" fill="#282c5c"/><rect x="11" y="0" width="1" height="1" fill="#2c4090"/>
<rect x="2" y="1" width="1" height="1" fill="#30509c"/><rect x="3" y="1" width="1" height="1" fill="#2c4090"/><rect x="4" y="1" width="1" height="1" fill="#30509c"/><rect x="5" y="1" width="1" height="1" fill="#4898c8"/><rect x="6" y="1" width="1" height="1" fill="#4078b4"/><rect x="7" y="1" width="2" height="1" fill="#2c4090"/><rect x="9" y="1" width="2" height="1" fill="#282c5c"/><rect x="11" y="1" width="1" height="1" fill="#4070b0"/><rect x="12" y="1" width="1" height="1" fill="#282c5c"/>
<rect x="0" y="2" width="1" height="1" fill="#282c5c"/><rect x="1" y="2" width="1" height="1" fill="#30509c"/><rect x="2" y="2" width="1" height="1" fill="#d02828"/><rect x="3" y="2" width="1" height="1" fill="#70bc78"/><rect x="4" y="2" width="1" height="1" fill="#30509c"/><rect x="5" y="2" width="2" height="1" fill="#282c5c"/><rect x="8" y="2" width="1" height="1" fill="#282c5c"/><rect x="9" y="2" width="1" height="1" fill="#2c4898"/><rect x="10" y="2" width="1" height="1" fill="#282c5c"/><rect x="11" y="2" width="1" height="1" fill="#2c4898"/><rect x="12" y="2" width="1" height="1" fill="#2c4090"/><rect x="13" y="2" width="2" height="1" fill="#282c5c"/>
<rect x="0" y="3" width="1" height="1" fill="#282c5c"/><rect x="1" y="3" width="1" height="1" fill="#4898c8"/><rect x="2" y="3" width="1" height="1" fill="#e08830"/><rect x="3" y="3" width="1" height="1" fill="#d02828"/><rect x="4" y="3" width="1" height="1" fill="#30509c"/><rect x="5" y="3" width="2" height="1" fill="#2c3478"/><rect x="7" y="3" width="1" height="1" fill="#30509c"/><rect x="8" y="3" width="1" height="1" fill="#e09830"/><rect x="9" y="3" width="1" height="1" fill="#90c448"/><rect x="10" y="3" width="1" height="1" fill="#5cb0c8"/><rect x="11" y="3" width="1" height="1" fill="#6a1c20"/><rect x="12" y="3" width="1" height="1" fill="#30509c"/><rect x="13" y="3" width="1" height="1" fill="#2c4898"/>
<rect x="1" y="4" width="1" height="1" fill="#3c68b0"/><rect x="2" y="4" width="2" height="1" fill="#68bcbc"/><rect x="4" y="4" width="1" height="1" fill="#30509c"/><rect x="5" y="4" width="1" height="1" fill="#3c60a8"/><rect x="6" y="4" width="1" height="1" fill="#30509c"/><rect x="7" y="4" width="1" height="1" fill="#d84028"/><rect x="8" y="4" width="1" height="1" fill="#a8cc48"/><rect x="9" y="4" width="1" height="1" fill="#68bc90"/><rect x="10" y="4" width="1" height="1" fill="#70bc80"/><rect x="11" y="4" width="1" height="1" fill="#68bc98"/><rect x="12" y="4" width="1" height="1" fill="#3c60a8"/><rect x="13" y="4" width="1" height="1" fill="#2c4898"/>
<rect x="3" y="5" width="1" height="1" fill="#2c4090"/><rect x="4" y="5" width="2" height="1" fill="#68bcbc"/><rect x="6" y="5" width="1" height="1" fill="#6a1c20"/><rect x="7" y="5" width="1" height="1" fill="#90c040"/><rect x="8" y="5" width="1" height="1" fill="#e09030"/><rect x="9" y="5" width="1" height="1" fill="#d84028"/><rect x="10" y="5" width="1" height="1" fill="#90c440"/><rect x="11" y="5" width="1" height="1" fill="#d09830"/><rect x="12" y="5" width="1" height="1" fill="#90c440"/><rect x="13" y="5" width="1" height="1" fill="#2c4898"/>
<rect x="5" y="6" width="1" height="1" fill="#2c3c88"/><rect x="6" y="6" width="1" height="1" fill="#4078b4"/><rect x="7" y="6" width="1" height="1" fill="#e07030"/><rect x="8" y="6" width="1" height="1" fill="#68bcb0"/><rect x="9" y="6" width="1" height="1" fill="#6a1c20"/><rect x="10" y="6" width="1" height="1" fill="#d02828"/><rect x="11" y="6" width="1" height="1" fill="#d83830"/><rect x="12" y="6" width="1" height="1" fill="#5cb0c8"/><rect x="13" y="6" width="1" height="1" fill="#2c4898"/>
<rect x="6" y="7" width="1" height="1" fill="#282c5c"/><rect x="7" y="7" width="1" height="1" fill="#30509c"/><rect x="8" y="7" width="1" height="1" fill="#2c4898"/><rect x="9" y="7" width="1" height="1" fill="#d8dc30"/><rect x="10" y="7" width="1" height="1" fill="#64b880"/><rect x="11" y="7" width="1" height="1" fill="#d8c030"/><rect x="13" y="7" width="1" height="1" fill="#68bc98"/>
<rect x="10" y="8" width="1" height="1" fill="#2c4090"/><rect x="11" y="8" width="1" height="1" fill="#68bca0"/><rect x="13" y="8" width="1" height="1" fill="#2c4090"/>
</g>
</g>

<!-- axes frames -->
<use href="#ax" x="260" y="101"/><use href="#ax" x="260" y="957"/><use href="#ax" x="260" y="1815"/><use href="#ax" x="260" y="2667"/>
<use href="#ax" x="1832" y="101"/><use href="#ax" x="1832" y="957"/><use href="#ax" x="1832" y="1815"/><use href="#ax" x="1832" y="2667"/>
<!-- colorbars -->
<use href="#cb" x="1326" y="101"/><use href="#cb" x="1326" y="957"/><use href="#cb" x="1326" y="1815"/><use href="#cb" x="1326" y="2667"/>
<use href="#cb" x="2898" y="101"/><use href="#cb" x="2898" y="957"/><use href="#cb" x="2898" y="1815"/><use href="#cb" x="2898" y="2667"/>

<!-- y labels -->
<g style="font-size:50px" class="it">
<text transform="translate(98,417) rotate(-90)" text-anchor="middle">v<tspan dy="10" style="font-size:34px;font-style:normal">i,</tspan><tspan style="font-size:34px">L</tspan></text>
<text transform="translate(98,1273) rotate(-90)" text-anchor="middle">v<tspan dy="10" style="font-size:34px;font-style:normal">i,</tspan><tspan style="font-size:34px">L</tspan></text>
<text transform="translate(98,2131) rotate(-90)" text-anchor="middle">v<tspan dy="10" style="font-size:34px;font-style:normal">i,</tspan><tspan style="font-size:34px">L</tspan></text>
<text transform="translate(98,2983) rotate(-90)" text-anchor="middle">v<tspan dy="10" style="font-size:34px;font-style:normal">i,</tspan><tspan style="font-size:34px">L</tspan></text>
</g>

<!-- titles -->
<g style="font-size:50px" text-anchor="middle">
<text x="745" y="172" class="it">H<tspan dy="10" style="font-size:34px;font-style:normal">i,</tspan><tspan style="font-size:34px">L</tspan></text>
<text x="745" y="1028" class="it">K<tspan dy="10" style="font-size:34px;font-style:normal">i,</tspan><tspan style="font-size:34px">L</tspan></text>
<text x="745" y="1886" class="it">Q<tspan dy="10" style="font-size:34px;font-style:normal">i,</tspan><tspan style="font-size:34px">L</tspan></text>
<text x="745" y="2738" class="it">S<tspan dy="10" style="font-size:34px">L</tspan></text>
<text x="2317" y="172" class="it">H<tspan dy="10" style="font-size:34px;font-style:normal">i,</tspan><tspan style="font-size:34px">M</tspan></text>
<text x="2317" y="1028" class="it">K<tspan dy="10" style="font-size:34px;font-style:normal">i,</tspan><tspan style="font-size:34px">M</tspan></text>
<text x="2317" y="1886" class="it">Q<tspan dy="10" style="font-size:34px;font-style:normal">i,</tspan><tspan style="font-size:34px">M</tspan></text>
<text x="2306" y="2738">Number of ion data points</text>
</g>
<g style="font-size:50px" text-anchor="end">
<text x="1201" y="172">(a)</text><text x="1201" y="1028">(b)</text><text x="1201" y="1886">(c)</text><text x="1201" y="2738">(d)</text>
<text x="2773" y="172">(e)</text><text x="2773" y="1028">(f)</text><text x="2773" y="1886">(g)</text><text x="2773" y="2738">(h)</text>
<text x="1535" y="45">Energy flux</text><text x="3089" y="45">Energy flux</text>
</g>

<!-- colorbar labels -->
<g class="t">
<text x="1434" y="117">1.5</text><text x="1434" y="221">1.0</text><text x="1434" y="324">0.5</text><text x="1434" y="428">0</text><text x="1434" y="533">−0.5</text><text x="1434" y="640">−1.0</text><text x="1434" y="744">−1.5</text>
<text x="3007" y="117">1.5</text><text x="3007" y="273">0.5</text><text x="3007" y="430">0</text><text x="3007" y="587">−0.5</text><text x="3007" y="744">−1.5</text>
<text x="1434" y="1077">0.2</text><text x="1434" y="1181">0.1</text><text x="1434" y="1286">0</text><text x="1434" y="1388">−0.1</text><text x="1434" y="1493">−0.2</text><text x="1434" y="1597">−0.3</text>
<text x="3007" y="973">0.2</text><text x="3007" y="1129">0.1</text><text x="3007" y="1286">0</text><text x="3007" y="1443">−0.1</text><text x="3007" y="1600">−0.2</text>
<text x="1434" y="1932">0.4</text><text x="1434" y="2036">0.2</text><text x="1434" y="2142">0</text><text x="1434" y="2246">−0.2</text><text x="1434" y="2351">−0.4</text><text x="1434" y="2455">−0.6</text>
<text x="3007" y="1831">0.5</text><text x="3007" y="2142">0</text><text x="3007" y="2455">−0.5</text>
<text x="1434" y="2683">0.4</text><text x="1434" y="2841">0.2</text><text x="1434" y="2999">0</text><text x="1434" y="3154">−0.2</text><text x="1434" y="3310">−0.4</text>
<text x="3007" y="2683">80</text><text x="3007" y="2841">60</text><text x="3007" y="2999">40</text><text x="3007" y="3154">20</text><text x="3007" y="3310">0</text>
</g>
</svg>
</body></html>
